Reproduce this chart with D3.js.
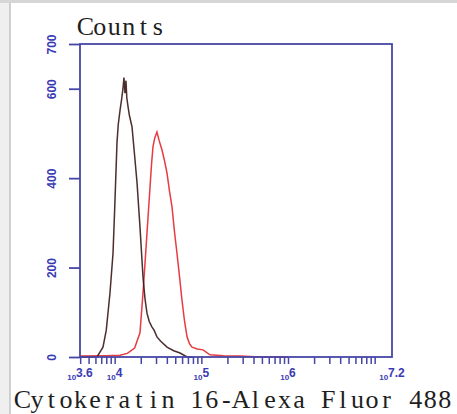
<!DOCTYPE html>
<html><head><meta charset="utf-8">
<script src="https://cdn.jsdelivr.net/npm/d3@7/dist/d3.min.js"></script>
<style>body{margin:0;background:#fff}svg{display:block}</style>
</head><body>
<script>
// Data
const yTicks = [0, 200, 400, 600, 700];
const xTickExponents = ["3.6", "4", "5", "6", "7.2"];
const xTickValues = [3981, 10000, 100000, 1000000, 15848932];
const controlX = [4000, 6250, 7330, 8000, 8830, 9570, 10000, 10640, 11000, 11540, 12000, 12470, 12800, 13150, 13500, 13800, 14260, 14800, 15850, 17000, 18110, 19590, 21230, 22400, 23600, 25000, 26980, 28500, 30760, 34000, 40180, 48000, 56750, 68390, 80000];
const controlY = [0, 0, 22, 60, 143, 232, 330, 480, 520, 552, 575, 600, 625, 590, 618, 580, 560, 540, 515, 450, 390, 291, 179, 130, 98, 80, 67, 60, 45, 35, 22, 14, 9, 0, 0];
const stainedX = [4000, 8000, 11540, 14000, 17000, 19590, 21230, 22400, 23600, 24600, 25590, 26600, 27670, 29000, 30760, 32500, 35160, 37500, 40180, 43000, 45920, 49000, 52360, 56000, 59840, 64000, 68390, 73000, 77980, 90000, 104470, 125890, 180000, 279250, 475340, 1000000];
const stainedY = [2, 3, 4, 8, 20, 54, 143, 210, 277, 330, 380, 430, 470, 490, 503, 485, 463, 440, 411, 370, 335, 280, 232, 180, 127, 80, 45, 30, 22, 18, 16, 5, 3, 2, 0, 0];
const yTitle = "Counts";
const xTitle = "Cytokeratin 16-Alexa Fluor 488";

const W = 457, H = 414;
const m = {l: 80, t: 44, r: 392, b: 357};
const svg = d3.select("body").append("svg").attr("width", W).attr("height", H);

// gray frame of the screenshot
svg.append("rect").attr("x", 0).attr("y", 0).attr("width", 9).attr("height", H).attr("fill", "#efefef");
svg.append("rect").attr("x", 9).attr("y", 0).attr("width", 2).attr("height", H).attr("fill", "#cfcfcf");
svg.append("rect").attr("x", 0).attr("y", 0).attr("width", W).attr("height", 3).attr("fill", "#d6d6d6");

const x = d3.scaleLog().domain([Math.pow(10, 3.6), Math.pow(10, 7.2)]).range([m.l, m.r]);
const y = d3.scaleLinear().domain([0, 700]).range([m.b, m.t]);
const axisColor = "#4646a6";
const labelColor = "#3a3ab4";

// curves
const line = d3.line().x(d => x(d[0])).y(d => y(d[1]));
svg.append("path").datum(stainedX.map((v, i) => [v, stainedY[i]]))
  .attr("d", line).attr("fill", "none").attr("stroke", "#e2262c").attr("stroke-width", 1.5).attr("stroke-opacity", 0.9);
svg.append("path").datum(controlX.map((v, i) => [v, controlY[i]]))
  .attr("d", line).attr("fill", "none").attr("stroke", "#3a1616").attr("stroke-width", 1.5).attr("stroke-opacity", 0.9);

// frame
svg.append("rect").attr("x", m.l).attr("y", m.t).attr("width", m.r - m.l).attr("height", m.b - m.t)
  .attr("fill", "none").attr("stroke", axisColor).attr("stroke-width", 1.8);

// y axis
const yAx = svg.append("g").attr("transform", `translate(${m.l},0)`)
  .call(d3.axisLeft(y).tickValues(yTicks).tickSize(11).tickFormat(d3.format("d")));
yAx.select(".domain").remove();
yAx.selectAll(".tick line").attr("stroke", axisColor).attr("stroke-width", 1.8);
yAx.selectAll(".tick text").attr("fill", labelColor).attr("font-family", "Liberation Sans, Arial, sans-serif")
  .attr("font-weight", "bold").attr("font-size", 12)
  .attr("x", 0).attr("y", 0).attr("dy", "0.35em").attr("text-anchor", "middle")
  .attr("transform", "translate(-28,0) rotate(-90)");

// x axis minor/major ticks
const minor = [];
for (let e = 3; e <= 7; e++) for (let k = 1; k <= 9; k++) {
  const v = k * Math.pow(10, e);
  if (v >= x.domain()[0] && v <= x.domain()[1]) minor.push(v);
}
const xAx = svg.append("g").attr("transform", `translate(0,${m.b})`)
  .call(d3.axisBottom(x).tickValues(minor).tickSize(7).tickFormat(""));
xAx.select(".domain").remove();
xAx.selectAll(".tick line").attr("stroke", axisColor).attr("stroke-width", 1.5);

// x tick labels: small "10" + larger exponent
const xl = svg.append("g");
xTickValues.forEach((v, i) => {
  const t = xl.append("text").attr("x", x(v)).attr("y", 380).attr("text-anchor", "middle")
    .attr("fill", labelColor).attr("font-family", "Liberation Sans, Arial, sans-serif").attr("font-weight", "bold");
  t.append("tspan").attr("font-size", 8).text("10");
  t.append("tspan").attr("font-size", 12).attr("dy", -3).text(xTickExponents[i]);
});

// titles in a serif monospace look: each glyph on a fixed pitch
function monoText(str, x0, pitch, yy) {
  const xs = Array.from(str).map((c, i) => (x0 + pitch * (i + 0.5)).toFixed(1)).join(" ");
  svg.append("text").attr("x", xs).attr("y", yy).attr("text-anchor", "middle")
    .attr("font-family", "Liberation Serif, Times New Roman, serif")
    .attr("font-size", 26).attr("fill", "#1e1e1e").text(str);
}
monoText(yTitle, 78, 14.5, 35);
monoText(xTitle, 15, 14.57, 408);
</script>
</body></html>
